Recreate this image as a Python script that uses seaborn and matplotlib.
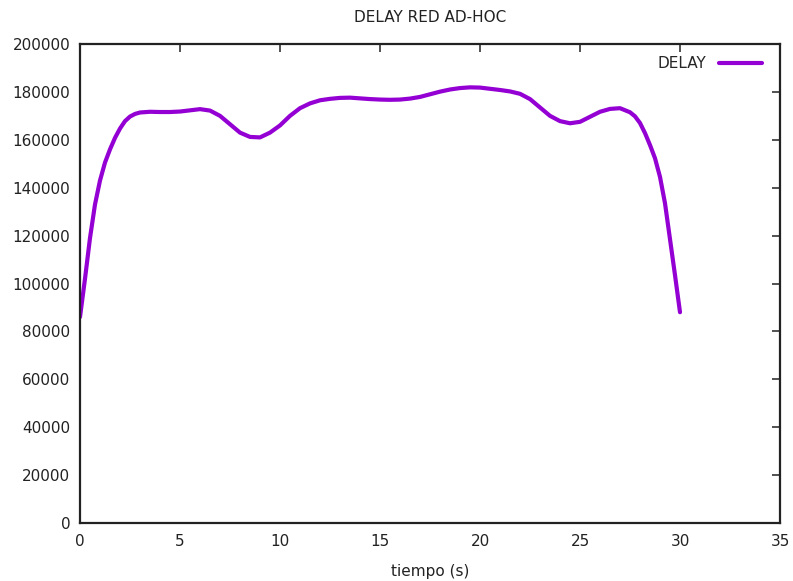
import numpy as np
import pandas as pd
import matplotlib
matplotlib.use("Agg")
import matplotlib.pyplot as plt
import seaborn as sns

# Network delay: quarter-second samples on the ramps, half-second in between
tiempo = [
    0.0, 0.25, 0.5, 0.75, 1.0, 1.25, 1.5, 1.75, 2.0, 2.25, 2.5, 2.75,
    3.0, 3.5, 4.0, 4.5, 5.0, 5.5, 6.0, 6.5, 7.0, 7.5,
    8.0, 8.5, 9.0, 9.5, 10.0, 10.5, 11.0, 11.5, 12.0, 12.5,
    13.0, 13.5, 14.0, 14.5, 15.0, 15.5, 16.0, 16.5, 17.0, 17.5,
    18.0, 18.5, 19.0, 19.5, 20.0, 20.5, 21.0, 21.5, 22.0, 22.5,
    23.0, 23.5, 24.0, 24.5, 25.0, 25.5, 26.0, 26.5, 27.0, 27.5,
    27.75, 28.0, 28.25, 28.5, 28.75, 29.0, 29.25, 29.5, 29.75, 30.0,
]
delay = [
    86000, 102000, 119000, 133000, 143000, 150500, 156000, 160800, 164700, 167800, 169700, 170800,
    171400, 171700, 171600, 171600, 171800, 172300, 172800, 172200, 170000, 166500,
    163000, 161200, 161000, 163000, 166000, 170000, 173200, 175200, 176500, 177100,
    177500, 177600, 177300, 177000, 176800, 176700, 176800, 177200, 177900, 179000,
    180100, 181000, 181600, 181900, 181800, 181300, 180800, 180200, 179200, 177000,
    173500, 170000, 167800, 166900, 167500, 169600, 171700, 172900, 173200, 171500,
    169800, 167000, 162800, 157800, 152300, 144500, 133500, 118500, 103500, 88000,
]
x_ticks = [0, 5, 10, 15, 20, 25, 30, 35]
y_ticks = [0, 20000, 40000, 60000, 80000, 100000, 120000, 140000, 160000, 180000, 200000]

df = pd.DataFrame({"tiempo (s)": tiempo, "DELAY": delay})

sns.set_style("white")
plt.rcParams["font.family"] = ["DejaVu Sans"]

fig = plt.figure(figsize=(7.93, 5.81), dpi=100)
ax = fig.add_axes([80 / 793, 1 - 523 / 581, 700 / 793, 479 / 581])

sns.lineplot(data=df, x="tiempo (s)", y="DELAY", ax=ax, color="#9400d3",
             linewidth=3, label="DELAY")

ax.set_xlim(0, 35)
ax.set_ylim(0, 200000)
ax.set_xticks(x_ticks)
ax.set_yticks(y_ticks)
ax.set_xticklabels([str(v) for v in x_ticks])
ax.set_yticklabels([str(v) for v in y_ticks])

ax.tick_params(axis="both", direction="in", length=6, width=1.2, color="#333333",
               labelsize=11, labelcolor="#222222", top=True, right=True,
               labeltop=False, labelright=False)
ax.tick_params(axis="x", pad=8)
ax.tick_params(axis="y", pad=7)

for side in ax.spines.values():
    side.set_visible(True)
    side.set_color("#222222")
    side.set_linewidth(1.6)

ax.set_xlabel("tiempo (s)", fontsize=11, color="#222222", labelpad=11)
ax.set_ylabel("")
ax.set_title("DELAY RED AD-HOC", fontsize=11, color="#222222", pad=16)

ax.legend(loc="upper right", bbox_to_anchor=(1.0, 1.0 + 6 / 479), frameon=False,
          markerfirst=False, fontsize=11, handlelength=2.8, borderaxespad=0.8)

fig.savefig("out.png", dpi=100)
